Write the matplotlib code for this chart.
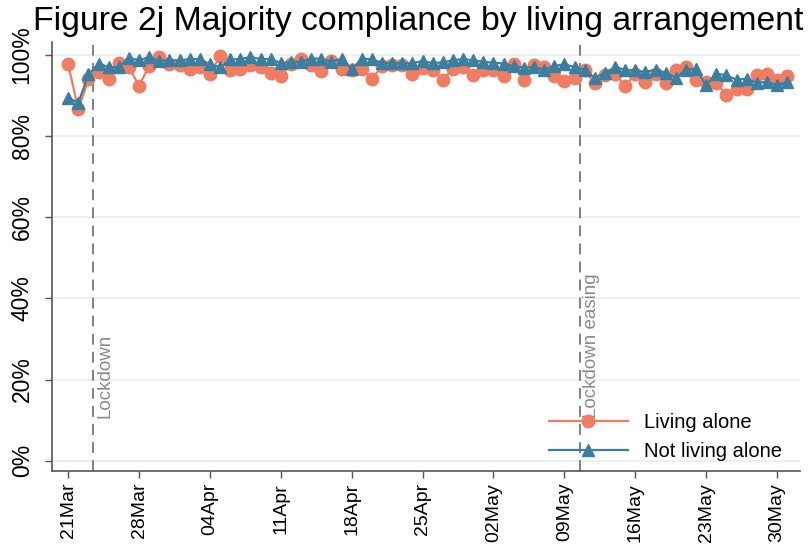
import matplotlib
matplotlib.use("Agg")
import matplotlib.pyplot as plt
import numpy as np
import pandas as pd

# daily survey dates, 21 Mar - 31 May 2020
dates = pd.date_range("2020-03-21", "2020-05-31", freq="D")

# % reporting majority compliance
living_alone = [
    97.7, 86.6, 94.0, 95.7, 94.2, 98.0, 97.0, 92.4, 97.4, 99.5,
    97.9, 97.6, 96.6, 97.1, 95.4, 99.7, 96.4, 96.6, 97.5, 97.0,
    95.6, 94.8, 97.9, 99.1, 97.5, 96.1, 98.5, 96.6, 96.2, 96.6,
    94.2, 97.2, 97.5, 97.5, 95.2, 96.8, 96.2, 93.9, 96.6, 97.0,
    95.0, 96.4, 96.2, 94.8, 97.9, 93.9, 97.5, 97.0, 94.8, 93.6,
    94.4, 96.2, 93.0, 95.0, 95.4, 92.3, 95.4, 93.4, 95.4, 93.1,
    96.4, 97.0, 93.9, 93.4, 93.1, 90.1, 91.7, 91.5, 95.0, 95.4,
    93.8, 94.8,
]
not_living_alone = [
    89.5, 88.2, 95.2, 97.9, 97.0, 97.0, 99.3, 98.7, 99.5, 98.5,
    98.7, 98.7, 99.0, 99.0, 97.7, 97.0, 98.9, 99.0, 99.5, 99.0,
    99.0, 98.0, 98.3, 98.3, 99.1, 99.1, 98.3, 99.1, 96.6, 99.0,
    99.0, 98.0, 98.0, 98.0, 98.0, 98.5, 98.0, 98.2, 98.7, 99.0,
    98.7, 98.3, 98.1, 97.9, 97.2, 96.9, 97.0, 96.4, 97.3, 97.7,
    97.0, 96.4, 94.4, 95.6, 97.0, 96.4, 96.2, 95.8, 96.4, 95.6,
    94.4, 96.4, 96.6, 92.5, 95.4, 95.0, 93.9, 94.2, 93.1, 93.4,
    92.5, 93.4,
]

tick_dates = pd.date_range("2020-03-21", "2020-05-30", freq="7D")
tick_labels = ["21Mar", "28Mar", "04Apr", "11Apr", "18Apr", "25Apr",
               "02May", "09May", "16May", "23May", "30May"]
y_ticks = [0, 20, 40, 60, 80, 100]

events = [pd.Timestamp("2020-03-23 10:00"), pd.Timestamp("2020-05-10 12:00")]
event_labels = ["Lockdown", "Lockdown easing"]

red = "#F07C61"
blue = "#3A7EA0"
font = "Liberation Sans"

fig = plt.figure(figsize=(8.12, 5.55), dpi=100)
ax = fig.add_axes([0.0637, 0.1514, 0.9213, 0.7729])

for y in y_ticks:
    ax.axhline(y, color="#E6F0F2", linewidth=1.3, zorder=0)

for d, lab in zip(events, event_labels):
    ax.axvline(d, color="#777777", linestyle=(0, (6, 4)), linewidth=1.3, zorder=1)
    ax.text(d + pd.Timedelta(hours=8), 10.5, lab, rotation=90, ha="left", va="bottom",
            color="#8a8a8a", fontsize=13.5, family=font)

ax.plot(dates, living_alone, color=red, marker="o", markersize=9, linewidth=1.6,
        label="Living alone", zorder=3)
ax.plot(dates, not_living_alone, color=blue, marker="^", markersize=9, linewidth=1.6,
        label="Not living alone", zorder=4)

ax.set_ylim(-2.54, 103.2)
ax.set_xlim(pd.Timestamp("2020-03-19 09:00"), pd.Timestamp("2020-06-01 06:00"))
ax.set_yticks(y_ticks)
ax.set_yticklabels([f"{v}%" for v in y_ticks], rotation=90, va="center",
                   fontsize=16.5, family=font)
ax.set_xticks(tick_dates)
ax.set_xticklabels(tick_labels, rotation=90, fontsize=14, family=font)
ax.tick_params(axis="both", direction="out", length=5, color="#555555", width=1)
ax.tick_params(axis="y", pad=8)

for side in ["top", "right"]:
    ax.spines[side].set_visible(False)
for side in ["left", "bottom"]:
    ax.spines[side].set_color("#555555")
    ax.spines[side].set_linewidth(1.2)

ax.legend(loc="lower right", frameon=False, prop={"family": font, "size": 14.5},
          handlelength=3.9, bbox_to_anchor=(1.0, -0.02))

fig.text(0.515, 0.99, "Figure 2j Majority compliance by living arrangement",
         ha="center", va="top", fontsize=24.3, family=font)

fig.savefig("out.png", dpi=100)
